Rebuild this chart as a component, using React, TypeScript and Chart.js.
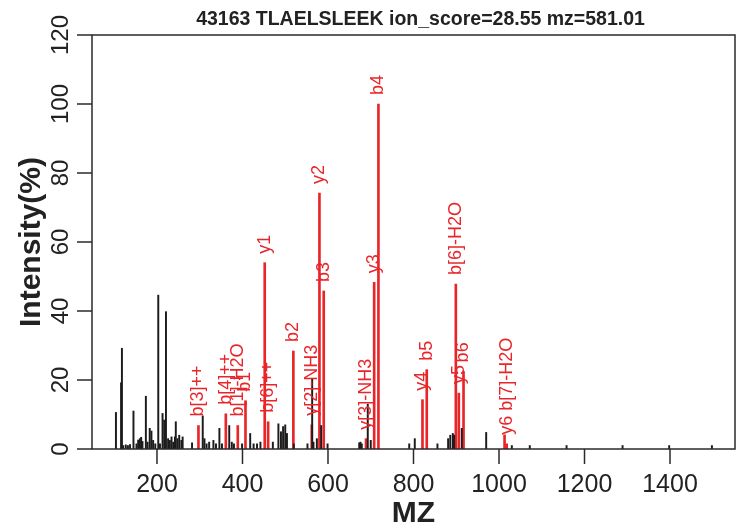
import { useEffect, useRef } from "react";
import { Chart, registerables } from "chart.js";

Chart.register(...registerables);

const TITLE = "43163 TLAELSLEEK ion_score=28.55 mz=581.01";
const X_TITLE = "MZ";
const Y_TITLE = "Intensity(%)";
const X_TICKS = [200, 400, 600, 800, 1000, 1200, 1400];
const Y_TICKS = [0, 20, 40, 60, 80, 100, 120];

// unmatched (black) peaks
const NOISE_MZ = [
  104, 116, 118, 121, 127, 132, 137, 145, 152, 156, 160, 163, 166, 174, 178, 183, 187, 191, 196,
  203, 207, 213, 217, 221, 226, 230, 234, 238, 242, 244, 248, 252, 257, 260, 282, 307, 311, 316,
  322, 332, 338, 346, 352, 369, 375, 380, 399, 418, 426, 434, 442, 471, 484, 490, 495, 500, 504,
  520, 552, 563, 566, 574, 584, 599, 673, 676, 679, 693, 700, 790, 803, 856, 881, 886, 892, 895,
  913, 970, 1030, 1072, 1158, 1289, 1398, 1498,
];
const NOISE_INT = [
  10.6, 19.2, 29.2, 1.0, 1.2, 1.0, 1.3, 11.0, 1.5, 2.6, 3.0, 3.4, 2.2, 15.3, 2.0, 6.0, 5.2, 2.5, 1.5,
  44.6, 1.5, 10.3, 8.4, 39.8, 3.0, 2.5, 3.5, 2.0, 3.5, 7.9, 3.0, 4.0, 2.5, 3.5, 1.8, 9.6, 3.0, 1.5,
  2.0, 2.5, 1.5, 6.0, 1.5, 6.8, 2.0, 1.5, 1.5, 4.5, 1.5, 1.5, 2.0, 2.0, 7.3, 5.0, 6.5, 7.0, 4.5,
  1.5, 1.5, 20.5, 2.0, 3.0, 6.8, 1.5, 1.8, 2.0, 1.5, 13.0, 2.5, 1.5, 3.0, 1.5, 3.0, 4.0, 4.5, 4.0,
  6.0, 4.8, 1.0, 1.0, 1.0, 1.0, 1.0, 1.0,
];

// matched (red) ion peaks
const ION_MZ = [297, 361, 389, 407, 452, 460, 519, 562, 580, 590, 689, 708, 718, 821, 831, 899, 906, 917, 1013, 1018];
const ION_INT = [6.8, 10.2, 6.8, 14.0, 54.0, 7.9, 28.4, 7.0, 74.2, 45.8, 3.0, 48.3, 100, 14.3, 23.0, 47.8, 16.2, 22.5, 4.1, 1.5];
const ION_LABELS = [
  "b[3]++", "b[4]++", "b[1]-H2O", "b1", "y1", "b[6]++", "b2", "y[2]-NH3", "y2", "b3",
  "y[3]-NH3", "y3", "b4", "y4", "b5", "b[6]-H2O", "y5", "b6", "", "y6 b[7]-H2O",
];

const FONT = "'Liberation Sans', Arial, Helvetica, sans-serif";
const RED = "#e8262a";
const INK = "#222222";

export default function App() {
  const ref = useRef<HTMLCanvasElement>(null);

  useEffect(() => {
    const canvas = ref.current;
    if (!canvas) return;

    const rPlot = {
      id: "rPlot",
      beforeDraw(chart: any) {
        const ctx = chart.ctx;
        ctx.save();
        ctx.fillStyle = "#ffffff";
        ctx.fillRect(0, 0, chart.width, chart.height);
        ctx.restore();
      },
      afterDatasetsDraw(chart: any) {
        const ctx = chart.ctx;
        const xs = chart.scales.x;
        const ys = chart.scales.y;
        ctx.save();
        ctx.fillStyle = RED;
        ctx.font = `18px ${FONT}`;
        ctx.textAlign = "left";
        ctx.textBaseline = "middle";
        ION_MZ.forEach((mz, i) => {
          const lab = ION_LABELS[i];
          if (!lab) return;
          const px = xs.getPixelForValue(mz);
          const py = ys.getPixelForValue(ION_INT[i]) - 9;
          ctx.save();
          ctx.translate(px, py);
          ctx.rotate(-Math.PI / 2);
          ctx.fillText(lab, 0, 0);
          ctx.restore();
        });
        ctx.restore();
      },
      afterDraw(chart: any) {
        const ctx = chart.ctx;
        const a = chart.chartArea;
        const xs = chart.scales.x;
        const ys = chart.scales.y;
        ctx.save();
        // frame
        ctx.strokeStyle = "#2a2a2a";
        ctx.lineWidth = 1.5;
        ctx.strokeRect(a.left, a.top, a.right - a.left, a.bottom - a.top);
        // x ticks
        ctx.fillStyle = INK;
        ctx.font = `25px ${FONT}`;
        ctx.textAlign = "center";
        ctx.textBaseline = "top";
        X_TICKS.forEach((v) => {
          const px = xs.getPixelForValue(v);
          ctx.beginPath();
          ctx.moveTo(px, a.bottom);
          ctx.lineTo(px, a.bottom + 15);
          ctx.stroke();
          ctx.fillText(String(v), px, a.bottom + 24);
        });
        // y ticks
        Y_TICKS.forEach((v) => {
          const py = ys.getPixelForValue(v);
          ctx.beginPath();
          ctx.moveTo(a.left, py);
          ctx.lineTo(a.left - 15, py);
          ctx.stroke();
          ctx.save();
          ctx.translate(a.left - 24, py);
          ctx.rotate(-Math.PI / 2);
          ctx.textAlign = "center";
          ctx.textBaseline = "alphabetic";
          ctx.font = `24px ${FONT}`;
          ctx.fillText(String(v), 0, 0);
          ctx.restore();
        });
        // axis titles
        ctx.font = `bold 30px ${FONT}`;
        ctx.textAlign = "center";
        ctx.textBaseline = "alphabetic";
        ctx.fillText(X_TITLE, (a.left + a.right) / 2, a.bottom + 73);
        ctx.save();
        ctx.translate(a.left - 52, (a.top + a.bottom) / 2);
        ctx.rotate(-Math.PI / 2);
        ctx.font = `bold 30px ${FONT}`;
        ctx.fillText(Y_TITLE, 0, 0);
        ctx.restore();
        // main title
        ctx.font = `bold 19.5px ${FONT}`;
        ctx.fillText(TITLE, (a.left + a.right) / 2 + 7, 25);
        ctx.restore();
      },
    };

    const chart = new Chart(canvas, {
      type: "bar",
      data: {
        datasets: [
          {
            data: NOISE_MZ.map((m, i) => ({ x: m, y: NOISE_INT[i] })),
            backgroundColor: "#1c1c1c",
            barThickness: 1.3,
            grouped: false,
          } as any,
          {
            data: ION_MZ.map((m, i) => ({ x: m, y: ION_INT[i] })),
            backgroundColor: RED,
            barThickness: 2,
            grouped: false,
          } as any,
        ],
      },
      options: {
        responsive: false,
        animation: false,
        layout: { padding: { left: 92, right: 10, top: 35, bottom: 80 } },
        scales: {
          x: { type: "linear", min: 48, max: 1552, offset: false, display: false },
          y: { type: "linear", min: 0, max: 120, display: false },
        },
        plugins: {
          legend: { display: false },
          tooltip: { enabled: false },
        },
      },
      plugins: [rPlot],
    });

    return () => chart.destroy();
  }, []);

  return (
    <div style={{ position: "fixed", left: 0, top: 0, width: 745, height: 529, background: "#fff" }}>
      <canvas ref={ref} width={745} height={529} style={{ width: 745, height: 529, display: "block" }} />
    </div>
  );
}
